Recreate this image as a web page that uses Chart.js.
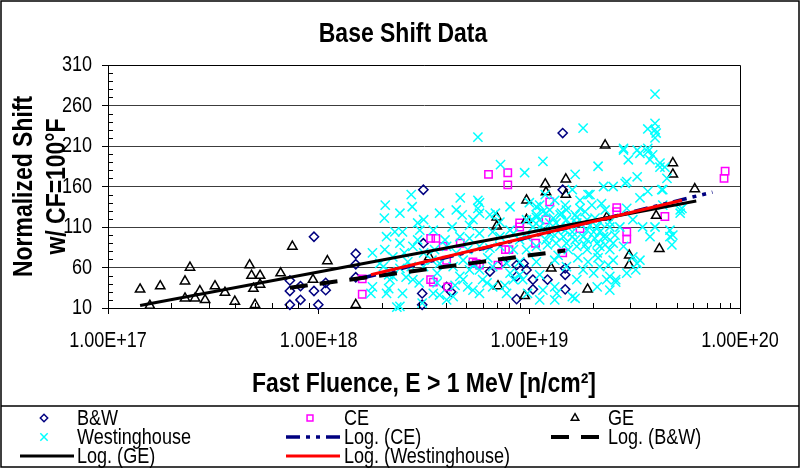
<!DOCTYPE html>
<html><head><meta charset="utf-8">
<script src="https://cdn.jsdelivr.net/npm/chart.js@4.4.1/dist/chart.umd.min.js"></script>
<style>html,body{margin:0;padding:0;background:#fff;}canvas{display:block;}</style>
</head><body>
<canvas id="c" width="801" height="470"></canvas>
<script>
// ---------- data ----------
const xTickValues = [1e17, 1e18, 1e19, 1e20];
const xTickLabels = ['1.00E+17', '1.00E+18', '1.00E+19', '1.00E+20'];
const yMin = 10, yMax = 310, yStep = 50;
const chartTitle = 'Base Shift Data';
const xTitle = 'Fast Fluence, E > 1 MeV [n/cm²]';
const yTitle = ['Normalized Shift', 'w/ CF=100°F'];

// [fast fluence, normalized shift]
const bwData = [[9.5e17,98],[7.3e17,44],[7.3e17,31],[7.3e17,14],[8.2e17,37],[8.2e17,20],[9.5e17,31],[9.96e17,14],[1.08e18,41],[1.08e18,32],[1.5e18,77],[1.5e18,64],[1.5e18,48],[3.1e18,28],[3.1e18,14],[3.14e18,156],[3.14e18,90],[4.05e18,36],[4.25e18,30],[6.5e18,55],[7.5e18,67],[8.7e18,63],[8.7e18,49],[8.7e18,21],[1.04e19,45],[1.04e19,33],[1.22e19,45],[1.48e19,59],[1.48e19,51],[1.48e19,33],[1.44e19,226],[1.44e19,156],[9.4e18,65],[9.7e18,57]];

const ceData = [[1.61e18,46],[1.61e18,27],[6.4e18,175],[7.9e18,177],[7.9e18,162],[3.4e18,96],[3.6e18,96],[3.9e18,86],[4.05e18,69],[3.4e18,45],[4.1e18,36],[5.4e18,67],[5.8e18,63],[7.1e18,63],[7.7e18,82],[8.0e18,82],[9.0e18,110],[1.07e19,90],[1.25e19,141],[1.44e19,78],[1.74e19,108],[2.6e19,134],[2.6e19,129],[2.9e19,104],[2.9e19,95],[4.4e19,123],[8.5e19,179],[8.4e19,170],[4.7e18,90],[9.0e18,115],[1.2e19,119],[3.5e18,42],[5.6e18,65]];

const geData = [[1.42e17,33],[1.58e17,13],[1.77e17,37],[2.32e17,43],[2.45e17,60],[2.32e17,22],[2.59e17,22],[2.73e17,31],[2.89e17,20],[3.22e17,37],[3.59e17,29],[4.0e17,18],[4.7e17,63],[4.8e17,50],[5.27e17,50],[5.27e17,39],[4.9e17,34],[4.99e17,14],[6.6e17,53],[7.5e17,86],[9.4e17,45],[1.1e18,68],[1.5e18,14],[7.0e18,122],[7.0e18,111],[9.7e18,143],[9.7e18,119],[1.19e19,163],[1.2e19,153],[1.49e19,169],[1.49e19,150],[7.1e18,37],[9.5e18,25],[1.89e19,33],[2.29e19,211],[2.98e19,75],[2.98e19,63],[4.0e19,124],[4.14e19,83],[4.8e19,189],[4.8e19,175],[6.1e19,157],[3.35e18,73],[1.27e19,59],[2.33e19,122]];

const westData = [[3.95e19,274],[5.7e18,221],[1.8e19,232],[3.65e19,231],[3.95e19,238],[3.95e19,230],[3.95e19,220],[2.8e19,205],[2.95e19,193],[3.25e19,205],[3.65e19,203],[3.85e19,199],[7.3e18,187],[1.16e19,191],[2.12e19,185],[9.5e18,177],[1.65e19,175],[4.17e19,184],[4.5e19,170],[2.75e18,150],[4.7e18,146],[5.7e18,143],[5.7e18,133],[5.8e18,127],[2.05e18,121],[2.25e19,160],[2.5e19,160],[2.9e19,166],[3.25e19,172],[3.65e19,154],[4.3e19,156],[3.35e19,146],[5.3e19,133],[5.2e19,127],[4.8e19,100],[4.75e19,88],[2.9e19,133],[1.6e19,156],[1.9e19,150],[1.98e19,137],[2.2e19,139],[1.3e19,121],[1.42e19,127],[1.16e19,129],[1.08e19,125],[9.7e18,119],[1.74e19,133],[1.88e19,119],[2.16e19,116],[2.41e19,110],[2.69e19,110],[3.1e19,119],[3.45e19,110],[3.95e19,110],[4.3e19,137],[3.74e19,98],
[2.1e18,98],[2.5e18,104],[2.43e18,90],[2.95e18,115],[3.02e18,106],[3.5e18,106],[4.3e18,110],[4.68e18,98],[5.2e18,96],[5.8e18,102],[6.7e18,104],[7.25e18,98],[8.4e18,102],[9.7e18,98],[1.12e19,110],[1.25e19,102],[1.4e19,110],[1.6e19,104],[1.8e19,98],[2.02e19,104],[2.25e19,98],[2.5e19,90],[2.8e19,86],[3.1e19,73],[2.5e19,69],[2.1e19,78],[1.88e19,82],[1.68e19,86],[1.5e19,90],[1.34e19,90],[1.2e19,94],[1.08e19,86],[9.7e18,82],[8.4e18,82],[7.25e18,86],[6.5e18,84],[5.8e18,86],[5.1e18,82],[4.5e18,78],[4.05e18,86],[3.55e18,82],[3.15e18,78],[2.8e18,86],[2.55e18,78],[2.25e18,73],[2.06e18,82],
[2.03e18,61],[2.25e18,49],[2.15e18,34],[2.35e18,11],[2.5e18,28],[2.8e18,45],[3.1e18,16],[3.65e18,41],[3.75e18,26],[4.35e18,61],[4.68e18,49],[5.1e18,36],[5.8e18,57],[6.0e18,45],[6.7e18,61],[8.1e18,53],[9.3e18,45],[1.12e19,51],[1.32e19,36],[1.12e19,20],[1.35e19,28],[1.65e19,22],[1.68e19,45],[1.8e19,57],[2.02e19,53],[2.16e19,61],[2.33e19,45],[2.1e19,36],[2.41e19,32],[2.57e19,45],[2.9e19,53],[3.25e19,65],[1.5e19,61],[1.32e19,69],[1.08e19,67],[9.0e18,67],[7.8e18,65],[5.4e18,63],[4.85e18,69],[3.75e18,65],[3.15e18,61],[2.75e18,61],[2.43e18,59],[3.5e18,28],[4.35e18,24],[6.7e18,36],[7.8e18,28],[5.8e18,28],
[1.08e19,135],[1.2e19,127],[1.34e19,115],[1.5e19,119],[1.68e19,115],[1.88e19,106],[2.1e19,110],[2.33e19,98],[2.1e19,90],[1.88e19,94],[1.6e19,98],[1.45e19,98],[1.04e19,110],[1.03e19,119],[1.12e19,119],[1.25e19,115],[2.41e19,82],[2.16e19,86],
[1.8e18,78],[1.95e18,65],[1.8e18,36],[2.1e18,28],[2.18e18,55],[2.43e18,12],[1.77e18,28],[2.41e19,49],[3.2e19,57],[2.57e19,42],[4.65e19,98],[4.65e19,106],[5.2e19,131],[3.35e19,69],[3.35e19,201],[3.74e19,193],[4.17e19,189],[4.0e19,226],[2.8e19,207],[3.65e19,207],[4.4e19,184],[2.85e19,164],[1.94e19,150],[4.25e19,156],
[2.07e18,137],[2.43e18,127],[2.78e18,135],[3.15e18,119],[3.75e18,127],[4.5e18,131],[5.4e18,119],[5.8e18,140],[6.9e18,127],[8.1e18,135],[1.0e19,140],[1.08e19,122],[1.5e19,131],[1.68e19,122],
[2.18e18,45],[2.6e18,48],[3.0e18,41],[3.65e18,53],[4.85e18,45],[5.4e18,32],[6.3e18,41],[8.4e18,45],[9.8e18,28],[1.16e19,32],[1.32e19,20],[1.6e19,24],
[1.12e19,137],[1.19e19,150],[1.25e19,131],[1.32e19,143],[1.4e19,125],[1.48e19,137],[1.56e19,112],[1.65e19,125],[1.74e19,143],[1.84e19,129],[1.94e19,112],[2.05e19,121],[2.16e19,104],[2.29e19,131],[2.41e19,116],[2.55e19,100],[1.22e19,88],[1.37e19,75],[1.53e19,82],[1.7e19,72],[1.9e19,67],[2.12e19,72],[2.37e19,63],[1.19e19,106],[1.32e19,100],[1.48e19,106],[1.65e19,94],[1.84e19,88],[2.05e19,96],[2.29e19,88],
[9.0e18,94],[8.1e18,106],[7.25e18,116],[6.5e18,125],[5.2e18,112],[4.8e18,125],[3.98e18,94],[3.45e18,69],[2.95e18,94],[2.65e18,67],[2.3e18,104],[2.15e18,51],[9.0e18,51],[7.66e18,38],[6.35e18,72],[5.2e18,57],[4.44e18,38],[4.05e18,20]];

// logarithmic trend lines (end points)
const trendCE = [[1.61e18,47],[7.4e19,153]];
const trendBW = [[7.3e17,35],[1.48e19,81]];
const trendGE = [[1.42e17,13],[6.2e19,142]];
const trendWest = [[1.77e18,51],[5.3e19,143]];

// ---------- narrow text rendering (Arial Narrow look from Liberation Sans) ----------
const FONT = '"Liberation Sans", Arial, sans-serif';
const CONDENSE = 0.82;
(function () {
  const P = CanvasRenderingContext2D.prototype;
  const origFill = P.fillText, origMeasure = P.measureText;
  const isNarrow = ctx => /Liberation Sans/.test(ctx.font);
  P.fillText = function (text, x, y, maxWidth) {
    if (!isNarrow(this)) return origFill.apply(this, arguments);
    this.save();
    this.translate(x, y);
    this.scale(CONDENSE, 1);
    if (maxWidth !== undefined) origFill.call(this, text, 0, 0, maxWidth / CONDENSE);
    else origFill.call(this, text, 0, 0);
    this.restore();
  };
  P.measureText = function (text) {
    const m = origMeasure.call(this, text);
    if (!isNarrow(this)) return m;
    return {
      width: m.width * CONDENSE,
      actualBoundingBoxLeft: m.actualBoundingBoxLeft * CONDENSE,
      actualBoundingBoxRight: m.actualBoundingBoxRight * CONDENSE,
      actualBoundingBoxAscent: m.actualBoundingBoxAscent,
      actualBoundingBoxDescent: m.actualBoundingBoxDescent,
      fontBoundingBoxAscent: m.fontBoundingBoxAscent,
      fontBoundingBoxDescent: m.fontBoundingBoxDescent
    };
  };
})();

// ---------- chart ----------
const pts = a => a.map(p => ({x: p[0], y: p[1]}));

function scatterSet(label, data, style, radius, color, order) {
  return {label, data: pts(data), pointStyle: style, pointRadius: radius, borderColor: color,
    backgroundColor: 'rgba(0,0,0,0)', borderWidth: 1.5, showLine: false, order, clip: false};
}
function trendSet(label, data, color, width, dash, order) {
  return {label, data: pts(data), showLine: true, pointRadius: 0, borderColor: color,
    backgroundColor: color, borderWidth: width, borderDash: dash, borderCapStyle: 'butt', order, fill: false};
}

const datasets = [
  scatterSet('B&W', bwData, 'rectRot', 4.6, '#000080', 8),
  scatterSet('CE', ceData, 'rect', 5.2, '#FF00FF', 7),
  scatterSet('GE', geData, 'triangle', 5.4, '#000000', 6),
  scatterSet('Westinghouse', westData, 'crossRot', 6.5, '#00FFFF', 5),
  trendSet('Log. (CE)', trendCE, '#000080', 3.5, [14,6,4,6,4,6], 4),
  trendSet('Log. (B&W)', trendBW, '#000000', 4, [18,12], 3),
  trendSet('Log. (GE)', trendGE, '#000000', 3, [], 2),
  trendSet('Log. (Westinghouse)', trendWest, '#FF0000', 3, [], 1)
];

const bgPlugin = {
  id: 'bg',
  beforeDraw(chart) {
    const c = chart.ctx; c.save(); c.fillStyle = '#fff'; c.fillRect(0, 0, chart.width, chart.height); c.restore();
  }
};

// centre the title over the whole picture (as in the reference) rather than the padded box
const titleShift = {
  id: 'titleShift',
  afterLayout(chart) {
    const t = chart.titleBlock;
    if (t) { t.left = 66; t.right = 740; }
  }
};

const framePlugin = {
  id: 'frame',
  afterDraw(chart) {
    const c = chart.ctx, a = chart.chartArea;
    const xs = chart.scales.x, ys = chart.scales.y;
    c.save();
    c.strokeStyle = '#000'; c.lineWidth = 1;
    c.beginPath();
    c.moveTo(Math.round(a.left) + 0.5, Math.round(a.top) + 0.5);
    c.lineTo(Math.round(a.right) + 0.5, Math.round(a.top) + 0.5);
    c.lineTo(Math.round(a.right) + 0.5, Math.round(a.bottom) + 0.5);
    c.stroke();
    c.beginPath();
    for (let d = 17; d < 20; d++) {
      for (let m = 2; m <= 9; m++) {
        const px = Math.round(xs.getPixelForValue(m * Math.pow(10, d))) + 0.5;
        c.moveTo(px, a.bottom); c.lineTo(px, a.bottom - 5);
      }
    }
    for (let v = yMin; v <= yMax; v += 10) {
      if ((v - yMin) % yStep === 0) continue;
      const py = Math.round(ys.getPixelForValue(v)) + 0.5;
      c.moveTo(a.left, py); c.lineTo(a.left + 5, py);
    }
    c.stroke();
    c.lineWidth = 1.5;
    c.strokeRect(1, 1, 798, 466);
    c.beginPath(); c.moveTo(1, 406); c.lineTo(799, 406); c.stroke();
    c.restore();
  }
};

const legendPlugin = {
  id: 'boxLegend',
  afterDraw(chart) {
    const c = chart.ctx;
    const ds = chart.data.datasets;
    const symX = [47, 313, 578], textX = [77, 344, 608], rowY = [418, 437, 456];
    c.save();
    c.font = '22px ' + FONT;
    c.textBaseline = 'middle'; c.textAlign = 'left';
    ds.forEach((d, i) => {
      const col = i % 3, row = Math.floor(i / 3);
      const cx = symX[col], cy = rowY[row];
      c.save();
      if (d.showLine) {
        c.strokeStyle = d.borderColor; c.lineWidth = d.borderWidth; c.setLineDash(d.borderDash || []);
        c.lineCap = 'butt';
        c.beginPath(); c.moveTo(cx - 27, cy); c.lineTo(cx + 27, cy); c.stroke();
      } else {
        c.strokeStyle = d.borderColor; c.fillStyle = 'rgba(0,0,0,0)'; c.lineWidth = d.borderWidth;
        Chart.helpers.drawPoint(c, {pointStyle: d.pointStyle, radius: d.pointRadius * 0.8, borderWidth: d.borderWidth, rotation: 0}, cx - 3, cy);
      }
      c.restore();
      c.fillStyle = '#000';
      c.fillText(d.label, textX[col], cy + 1);
    });
    c.restore();
  }
};

new Chart(document.getElementById('c'), {
  type: 'scatter',
  data: {datasets},
  options: {
    responsive: false, animation: false, events: [],
    layout: {padding: {left: 0, right: 61, top: 0, bottom: 64}},
    plugins: {
      legend: {display: false}, tooltip: {enabled: false},
      title: {display: true, text: chartTitle, color: '#000',
        font: {family: FONT, size: 28, weight: 'bold', lineHeight: 1.2},
        padding: {top: 17, bottom: 14.4}}
    },
    scales: {
      x: {
        type: 'logarithmic', position: 'bottom', min: xTickValues[0], max: xTickValues[xTickValues.length - 1],
        afterBuildTicks: s => { s.ticks = xTickValues.map(v => ({value: v, major: true})); },
        afterFit: s => { s.height = 98; },
        ticks: {autoSkip: false, maxRotation: 0, minRotation: 0, padding: 14, color: '#000',
          font: {family: FONT, size: 22}, callback: (v) => xTickLabels[xTickValues.indexOf(v)] ?? ''},
        grid: {display: true, drawOnChartArea: false, drawTicks: true, tickLength: 6, tickColor: '#000', color: '#000'},
        border: {display: true, color: '#000', width: 1},
        title: {display: true, text: xTitle, color: '#000', font: {family: FONT, size: 28, weight: 'bold', lineHeight: 1.2}, padding: {top: 0, bottom: 5}}
      },
      y: {
        type: 'linear', min: yMin, max: yMax,
        afterFit: s => { s.width = 108; },
        ticks: {stepSize: yStep, padding: 10, color: '#000', font: {family: FONT, size: 22}},
        grid: {display: true, drawOnChartArea: true, drawTicks: true, tickLength: 6, tickColor: '#000', color: '#3c3c3c', lineWidth: 1},
        border: {display: true, color: '#000', width: 1},
        title: {display: true, text: yTitle, color: '#000', font: {family: FONT, size: 28, weight: 'bold', lineHeight: 1.2}, padding: {top: 7, bottom: 0}}
      }
    }
  },
  plugins: [bgPlugin, titleShift, framePlugin, legendPlugin]
});
</script>
</body></html>
